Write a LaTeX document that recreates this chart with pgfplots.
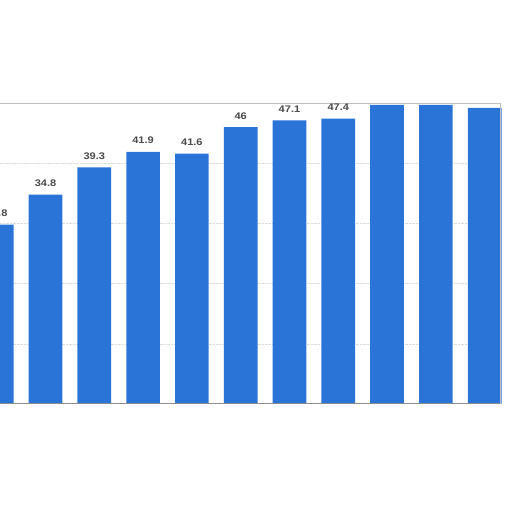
\documentclass[border=0pt]{standalone}
\usepackage{graphicx}
\usepackage{fontspec}
\setmainfont{Liberation Sans}
\usepackage{pgfplots}
\pgfplotsset{compat=1.18}
\definecolor{barblue}{HTML}{2A74D8}
\definecolor{lbl}{HTML}{4A4A4A}
\begin{document}
\begin{tikzpicture}
\useasboundingbox (0pt,0pt) rectangle (512pt,512pt);
\begin{axis}[
  at={(0pt,108pt)}, anchor=south west,
  scale only axis, width=500pt, height=301pt,
  xmin=0.0676, xmax=10.314, ymin=0, ymax=50,
  axis line style={draw=none},
  major tick length=0pt,
  ytick={10,20,30,40}, yticklabels={},
  xtick=\empty,
  ymajorgrids, grid style={densely dotted, color=black!14, line width=0.5pt},
  /pgf/number format/assume math mode=true,
  clip=false,
]
\addplot[ybar, bar shift=0pt, bar width=0.69, fill=barblue, draw=none,
  nodes near coords={\scalebox{1.15}[1]{\bfseries\pgfmathprintnumber[fixed,precision=1]{\pgfplotspointmeta}}},
  nodes near coords style={anchor=south, inner sep=0pt, yshift=7.5pt, font=\fontsize{9.6}{10}\selectfont, text=lbl}]
  coordinates {(0,29.8) (1,34.8) (2,39.3) (3,41.9) (4,41.6) (5,46) (6,47.1) (7,47.4)};
\addplot[ybar, bar shift=0pt, bar width=0.69, fill=barblue, draw=none]
  coordinates {(8,49.7) (9,49.7) (10,49.2)};
\draw[color=black!25, line width=0.8pt] (rel axis cs:0,1) -- (rel axis cs:1,1) -- (rel axis cs:1,0);
\draw[color=black!45, line width=1pt] (rel axis cs:0,0) -- (rel axis cs:1,0);
\end{axis}
\end{tikzpicture}
\end{document}
